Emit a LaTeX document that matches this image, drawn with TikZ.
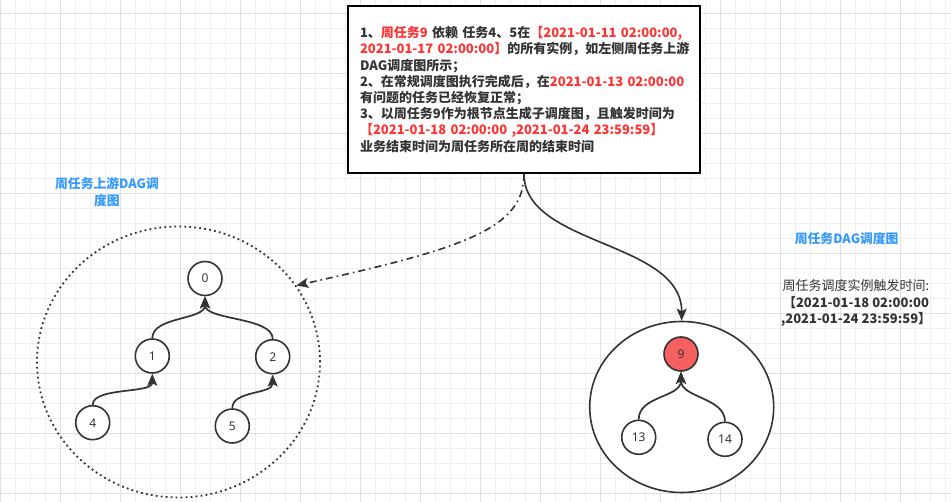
\documentclass[tikz,border=0pt]{standalone}
\usepackage{fontspec}
\usetikzlibrary{arrows.meta,shapes.geometric}
\newfontfamily\cjk{Noto Sans CJK SC}
\newfontfamily\numfont{Noto Sans}
\definecolor{ink}{HTML}{333333}
\definecolor{hlred}{HTML}{FF3333}
\definecolor{labelblue}{HTML}{3399FF}
\definecolor{nodered}{RGB}{246,96,96}
\definecolor{gridminor}{HTML}{EFEFEF}
\definecolor{gridmajor}{HTML}{E0E0E0}
\newcommand{\redtxt}[1]{\textcolor{hlred}{#1}}
\tikzset{
  dagnode/.style={circle, draw=ink, line width=1.6pt, minimum size=34pt, inner sep=0pt,
    fill=white, text=ink, font=\numfont\fontsize{12}{14}\selectfont},
  dagedge/.style={draw=ink, line width=1.7pt, -{Stealth[length=12pt,width=10pt,inset=2.5pt]}},
  linkarrow/.style={draw=ink, line width=1.6pt, -{Stealth[length=12pt,width=10pt,inset=2.5pt]}},
  dashdotarrow/.style={linkarrow, dash pattern=on 7pt off 4pt on 1.6pt off 4pt},
  bluelabel/.style={text=labelblue, align=center, inner sep=0pt,
    font=\cjk\bfseries\fontsize{12.8}{17.7}\selectfont},
}
\begin{document}
\begin{tikzpicture}[x=1pt,y=-1pt]
\useasboundingbox (0,0) rectangle (951,502);
\fill[white] (0,0) rectangle (951,502);
% grid
\foreach \i in {0,...,63} \draw[gridminor, line width=0.8pt] (0.5+15*\i,0) -- (0.5+15*\i,502);
\foreach \j in {0,...,32} \draw[gridminor, line width=0.8pt] (0,13.3+15*\j) -- (951,13.3+15*\j);
\foreach \i in {0,...,15} \draw[gridmajor, line width=0.9pt] (0.5+60*\i,0) -- (0.5+60*\i,502);
\foreach \j in {0,...,8} \draw[gridmajor, line width=0.9pt] (0,13.3+60*\j) -- (951,13.3+60*\j);

% main note box
\node (note) [draw=black, line width=2pt, fill=white, text=ink, text width=328pt,
  inner xsep=12pt, inner ysep=0pt, minimum height=167pt, align=left,
  font=\cjk\bfseries\fontsize{13}{16.2}\selectfont] at (524,89.5)
{\mbox{1、\redtxt{周任务9} 依赖 任务4、5在\redtxt{【2021-01-11 02:00:00,}}\\
\mbox{\redtxt{2021-01-17 02:00:00】}的所有实例，如左侧周任务上游}\\
\mbox{DAG调度图所示；}\\
\mbox{2、在常规调度图执行完成后，在\redtxt{2021-01-13 02:00:00}}\\
\mbox{有问题的任务已经恢复正常；}\\
\mbox{3、以周任务9作为根节点生成子调度图，且触发时间为}\\
\mbox{\redtxt{【2021-01-18 02:00:00 ,2021-01-24 23:59:59】}}\\
\mbox{业务结束时间为周任务所在周的结束时间}};

% left container (upstream DAG)
\node (upstream) [ellipse, draw=ink, line width=1.8pt, dash pattern=on 1.8pt off 3.2pt,
  minimum width=283pt, minimum height=271pt, inner sep=0pt] at (178.5,362) {};
\node (upLabel) [bluelabel] at (107,192) {周任务上游DAG调\\度图};

\node (n0) [dagnode] at (205,278.5) {0};
\node (n1) [dagnode] at (152.3,356) {1};
\node (n2) [dagnode] at (272.7,356.7) {2};
\node (n4) [dagnode] at (92.7,422.7) {4};
\node (n5) [dagnode] at (232.3,426) {5};

\draw[dagedge] (n1.north) .. controls +(0,-22) and +(0,24) .. (n0.south);
\draw[dagedge] (n2.north) .. controls +(0,-22) and +(0,24) .. (n0.south);
\draw[dagedge] (n4.north) .. controls +(0,-18) and +(0,20) .. (n1.south);
\draw[dagedge] (n5.north) .. controls +(0,-18) and +(0,20) .. (n2.south);

% right container (week DAG)
\node (weekdag) [ellipse, draw=ink, line width=1.6pt, fill=white,
  minimum width=184pt, minimum height=171pt, inner sep=0pt] at (681.7,407) {};
\node (weekLabel) [bluelabel] at (846.7,238.3) {周任务DAG调度图};
\node (trigger) [text=ink, align=center, inner sep=0pt,
  font=\cjk\fontsize{13}{16.3}\selectfont] at (856,303)
  {周任务调度实例触发时间:\\ \textbf{【2021-01-18 02:00:00}\\ \textbf{,2021-01-24 23:59:59】}};

\node (n9) [dagnode, fill=nodered] at (681,354) {9};
\node (n13) [dagnode] at (638.7,437.3) {13};
\node (n14) [dagnode] at (725,439.3) {14};

\draw[dagedge] (n13.north) .. controls +(0,-24) and +(0,26) .. (n9.south);
\draw[dagedge] (n14.north) .. controls +(0,-24) and +(0,26) .. (n9.south);

% links from note
\draw[dashdotarrow] (note.south) .. controls +(0,55) and +(167,-37) .. (upstream.33);
\draw[linkarrow] (note.south) .. controls +(0,72) and +(0,-80) .. (weekdag.north);
\end{tikzpicture}
\end{document}
